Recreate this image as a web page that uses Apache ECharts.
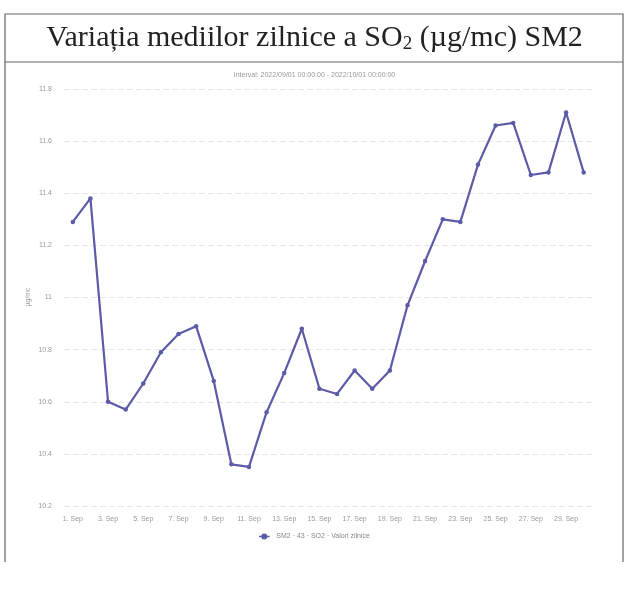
<!DOCTYPE html>
<html>
<head>
<meta charset="utf-8">
<script src="https://cdn.jsdelivr.net/npm/echarts@6/dist/echarts.min.js"></script>
<style>html,body{margin:0;padding:0;background:#fff}#c{width:629px;height:589px}</style>
</head>
<body>
<div id="c"></div>
<script>
var categories = ["1. Sep","2. Sep","3. Sep","4. Sep","5. Sep","6. Sep","7. Sep","8. Sep","9. Sep","10. Sep","11. Sep","12. Sep","13. Sep","14. Sep","15. Sep","16. Sep","17. Sep","18. Sep","19. Sep","20. Sep","21. Sep","22. Sep","23. Sep","24. Sep","25. Sep","26. Sep","27. Sep","28. Sep","29. Sep","30. Sep"];
var so2Values = [11.29,11.38,10.60,10.57,10.67,10.79,10.86,10.89,10.68,10.36,10.35,10.56,10.71,10.88,10.65,10.63,10.72,10.65,10.72,10.97,11.14,11.30,11.29,11.51,11.66,11.67,11.47,11.48,11.71,11.48];
var seriesName = "SM2 · 43 · SO2 · Valori zilnice";
var titleText = "Variația mediilor zilnice a SO{sub|2} (µg/mc) SM2";
var subtitleText = "Interval: 2022/09/01 00:00:00 - 2022/10/01 00:00:00";
var yAxisName = "µg/mc";

var chart = echarts.init(document.getElementById('c'), null, {renderer:'canvas'});
chart.setOption({
  backgroundColor: '#fff',
  animation: false,
  graphic: [
    {type:'polyline', shape:{points:[[5,562],[5,14],[623,14],[623,562]]}, style:{fill:'none', stroke:'#666', lineWidth:1.2}},
    {type:'line', shape:{x1:5, y1:62, x2:623, y2:62}, style:{stroke:'#666', lineWidth:1.2}},
    {type:'text', left:'center', top:23, style:{
      text: titleText, fill:'#222', font:'30px "Liberation Serif", "Times New Roman", serif',
      rich:{sub:{fontSize:19, fontFamily:'"Liberation Serif", serif', fill:'#222', verticalAlign:'bottom', padding:[13,0,0,0]}}
    }},
    {type:'text', left:'center', top:72, style:{text: subtitleText, fill:'#999', font:'7px "Liberation Sans", Arial, sans-serif'}},
    {type:'text', x:28, y:297, rotation:Math.PI/2, style:{text:yAxisName, fill:'#999', font:'7px "Liberation Sans", Arial, sans-serif', align:'center', verticalAlign:'middle'}}
  ],
  grid: {left:64, right:36.5, top:89, bottom:83, containLabel:false},
  legend: {
    bottom: 44, left: 'center', itemWidth: 14, itemHeight: 6,
    textStyle:{color:'#888', fontSize:7, fontFamily:'"Liberation Sans", Arial, sans-serif'},
    data:[{name:seriesName, icon:'path://M0,4 L14,4 L14,6 L0,6 Z M7,1 A4,4 0 1 1 6.99,1 Z'}]
  },
  xAxis: {
    type:'category', data:categories, boundaryGap:true,
    axisLine:{show:false}, axisTick:{show:false},
    axisLabel:{interval:1, color:'#999', fontSize:7, margin:10, fontFamily:'"Liberation Sans", Arial, sans-serif'},
    splitLine:{show:false}
  },
  yAxis: {
    type:'value', min:10.2, max:11.8, interval:0.2,
    axisLine:{show:false}, axisTick:{show:false},
    axisLabel:{color:'#999', fontSize:7, margin:12, fontFamily:'"Liberation Sans", Arial, sans-serif',
      formatter:function(v){return (Math.round(v*10)/10).toString();}},
    splitLine:{lineStyle:{color:'#e6e6e6', width:1, type:[6,3]}}
  },
  series: [{
    name: seriesName, type:'line', data: so2Values,
    symbol:'circle', symbolSize:4.5, showSymbol:true,
    lineStyle:{color:'#5b5ba8', width:2.2},
    itemStyle:{color:'#5b5ba8'}
  }]
});
</script>
</body>
</html>
